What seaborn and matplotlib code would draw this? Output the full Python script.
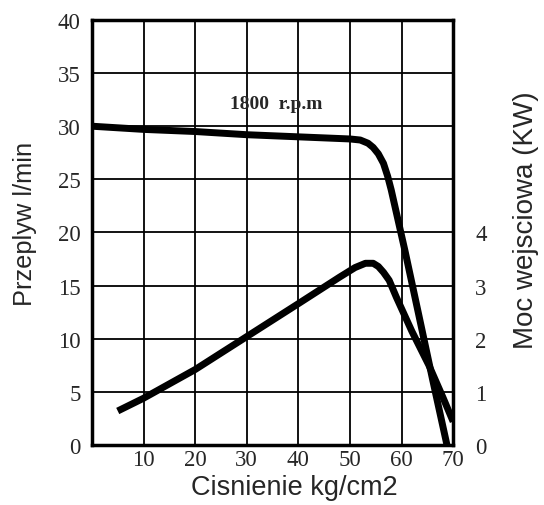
import matplotlib
matplotlib.use("Agg")
import matplotlib.pyplot as plt
import seaborn as sns

# flow curve (left axis, l/min)
flow_x = [0, 10, 20, 30, 40, 50, 52, 53.5, 54.5, 55.5, 56.5, 57.3, 58, 60.7, 63.4, 66, 68.8]
flow_y = [30.0, 29.7, 29.5, 29.2, 29.0, 28.8, 28.7, 28.4, 28.0, 27.4, 26.5, 25.3, 24.0, 18.2, 12.1, 6.2, 0.0]

# input power curve (right axis, KW)
power_x = [5, 10, 20, 30, 40, 48, 51, 53, 54.5, 55.5, 56.5, 57.6, 59, 62, 65.3, 68, 70]
power_y = [0.64, 0.88, 1.42, 2.04, 2.66, 3.16, 3.34, 3.42, 3.42, 3.36, 3.25, 3.10, 2.78, 2.14, 1.50, 0.90, 0.44]

x_ticks = [10, 20, 30, 40, 50, 60, 70]
y_ticks = [0, 5, 10, 15, 20, 25, 30, 35, 40]
kw_ticks = [0, 1, 2, 3, 4]

sns.set_style("white")
plt.rcParams['font.family'] = ['Liberation Serif', 'DejaVu Serif']

fig = plt.figure(figsize=(5.44, 5.06), dpi=100)
ax = fig.add_axes([0.169, 0.1186, 0.664, 0.840])

sns.lineplot(x=flow_x, y=flow_y, ax=ax, color="black", linewidth=5, sort=False,
             solid_capstyle="butt", solid_joinstyle="round")
ax.set_xlim(0, 70)
ax.set_ylim(0, 40)
ax.set_xticks(range(0, 71, 10))
ax.set_yticks(y_ticks)
ax.set_xticklabels([""] + [str(t) for t in x_ticks])
ax.grid(True, color="black", linewidth=1.3)
ax.tick_params(axis="y", length=0, labelsize=16.5, pad=8)
ax.tick_params(axis="x", length=0, labelsize=16.5, pad=3)
for s in ax.spines.values():
    s.set_linewidth(2.5)
    s.set_color("black")
ax.set_xlabel("Cisnienie kg/cm2", family="Liberation Sans", fontsize=19.5)
ax.set_ylabel("Przeplyw l/min", family="Liberation Sans", fontsize=18.3)
# labels sit a little off centre in the original
ax.xaxis.set_label_coords(0.56, -0.068)
ax.yaxis.set_label_coords(-0.152, 0.522)

ax.text(35.7, 32.1, "1800  r.p.m", ha="center", va="center", fontsize=14, fontweight="bold")

ax2 = ax.twinx()
sns.lineplot(x=power_x, y=power_y, ax=ax2, color="black", linewidth=5, sort=False,
             solid_capstyle="butt", solid_joinstyle="round")
ax2.set_ylim(0, 8)
ax2.set_yticks(kw_ticks)
ax2.tick_params(length=0, labelsize=16.5, pad=16)
ax2.grid(False)
for s in ax2.spines.values():
    s.set_visible(False)
ax2.set_ylabel("Moc wejsciowa (KW)", family="Liberation Sans", fontsize=20)
ax2.yaxis.set_label_coords(1.166, 0.532)

fig.savefig("out.png", dpi=100)
